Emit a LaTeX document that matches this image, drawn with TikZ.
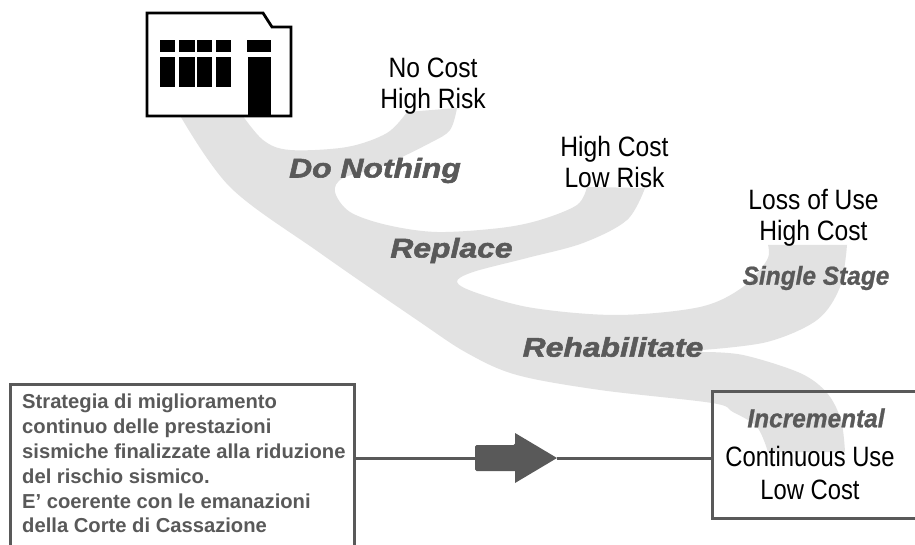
\documentclass[tikz,border=0pt]{standalone}
\usepackage{fontspec}
\setmainfont{Liberation Sans}
\newfontfamily\narrowfont[FakeStretch=0.88]{Liberation Sans}
\newfontfamily\tightfont[FakeStretch=0.85]{Liberation Sans}
\newfontfamily\blackfont[FakeStretch=1.18,FakeBold=2]{Liberation Sans Bold Italic}
\newfontfamily\narrowital[FakeStretch=0.94,FakeBold=0.8]{Liberation Sans Bold Italic}
\definecolor{ribbon}{HTML}{E2E2E2}
\definecolor{ink}{HTML}{595959}
\tikzset{
  frame/.style={draw=ink,line width=3pt,fill=none,inner sep=0pt,rectangle},
  link/.style={draw=ink,line width=3pt},
  result/.style={font=\narrowfont\fontsize{28}{31}\selectfont,align=center,text=black,inner sep=0pt},
  wide/.style={font=\blackfont\fontsize{27}{31}\selectfont,text=ink,inner sep=0pt},
  slim/.style={font=\narrowital\fontsize{26}{30}\selectfont,text=ink,inner sep=0pt},
  note/.style={font=\bfseries\fontsize{20.2}{24.8}\selectfont,text=ink,align=left,inner sep=0pt,anchor=north west},
  pane/.style={fill=black}
}
\begin{document}
\begin{tikzpicture}[x=1pt,y=-1pt]
\useasboundingbox (0,0) rectangle (915,545);
\clip (0,0) rectangle (915,545);
\fill[white] (0,0) rectangle (915,545);
% ribbon
\fill[ribbon] plot[smooth,tension=.55] coordinates {(178,112) (230,187) (320,253) (417,320) (467,353) (517,375) (600,390) (712,403) (733,412) (757,427) (768,452)}
 -- plot[smooth,tension=.55] coordinates {(845,452) (841,420) (827,393) (800,373) (743,355) (702,352)}
 -- plot[smooth,tension=.55] coordinates {(702,350) (767,342) (817,320) (840,287) (847,245)}
 -- plot[smooth,tension=.55] coordinates {(768,245) (767,260) (743,287) (700,307) (617,315) (533,308) (477,293) (457,282) (473,272) (527,258) (583,243) (627,220) (645,188)}
 -- plot[smooth,tension=.55] coordinates {(587,187) (577,205) (540,220) (500,228) (437,232) (387,225) (350,212) (335,192) (343,178) (380,167) (430,143) (450,130) (457,108)}
 -- plot[smooth,tension=.55] coordinates {(407,112) (387,133) (347,147) (290,150) (263,140) (240,112)} -- cycle;
% building
\draw[fill=white,line width=2.8pt,line join=miter] (147,13) -- (263,13) -- (272,27) -- (291,27) -- (291,116) -- (147,116) -- cycle;
\foreach \a/\b in {160/175,179/195,197/212,216/231}{
  \fill[pane] (\a,40) rectangle (\b,52);
  \fill[pane] (\a,57) rectangle (\b,87);
}
\fill[pane] (247,40) rectangle (271,52);
\fill[pane] (248,57) rectangle (271,115);
% boxes
\node[frame,minimum width=344pt,minimum height=187pt] (leftbox) at (182,477.5) {};
\node[frame,minimum width=243pt,minimum height=127pt] (rightbox) at (833.5,454.5) {};
\coordinate (arrowtail) at (475,458);
\coordinate (arrowtip) at (557,458);
\draw[link] (leftbox.east |- arrowtail) -- (arrowtail);
\draw[link] (arrowtip) -- (rightbox.west |- arrowtip);
\fill[ink,rounded corners=1.5pt] (arrowtail) -- (475,445) -- (515,445) [sharp corners] -- (515,433) -- (arrowtip) -- (515,483) -- (515,471) [rounded corners=1.5pt] -- (475,471) -- cycle;
% texts
\node[result] (nocost) at (433,86) {No Cost\\High Risk};
\node[result] (highcost) at (614.5,162) {High Cost\\Low Risk};
\node[result] (loss) at (813.5,218) {Loss of Use\\High Cost};
\node[result,font=\tightfont\fontsize{28}{32.5}\selectfont] (contuse) at (810,473) {Continuous Use\\Low Cost};
\node[wide] (donothing) at (375,170.5) {Do Nothing};
\node[wide] (replace) at (451.5,250.5) {Replace};
\node[wide] (rehab) at (613,347) {Rehabilitate};
\node[slim] (single) at (816,278) {Single Stage};
\node[slim] (incr) at (816,418) {Incremental};
\node[note] (strategy) at (22,394) {Strategia di miglioramento\\continuo delle prestazioni\\sismiche finalizzate alla riduzione\\del rischio sismico.\\E' coerente con le emanazioni\\della Corte di Cassazione};
\end{tikzpicture}
\end{document}
